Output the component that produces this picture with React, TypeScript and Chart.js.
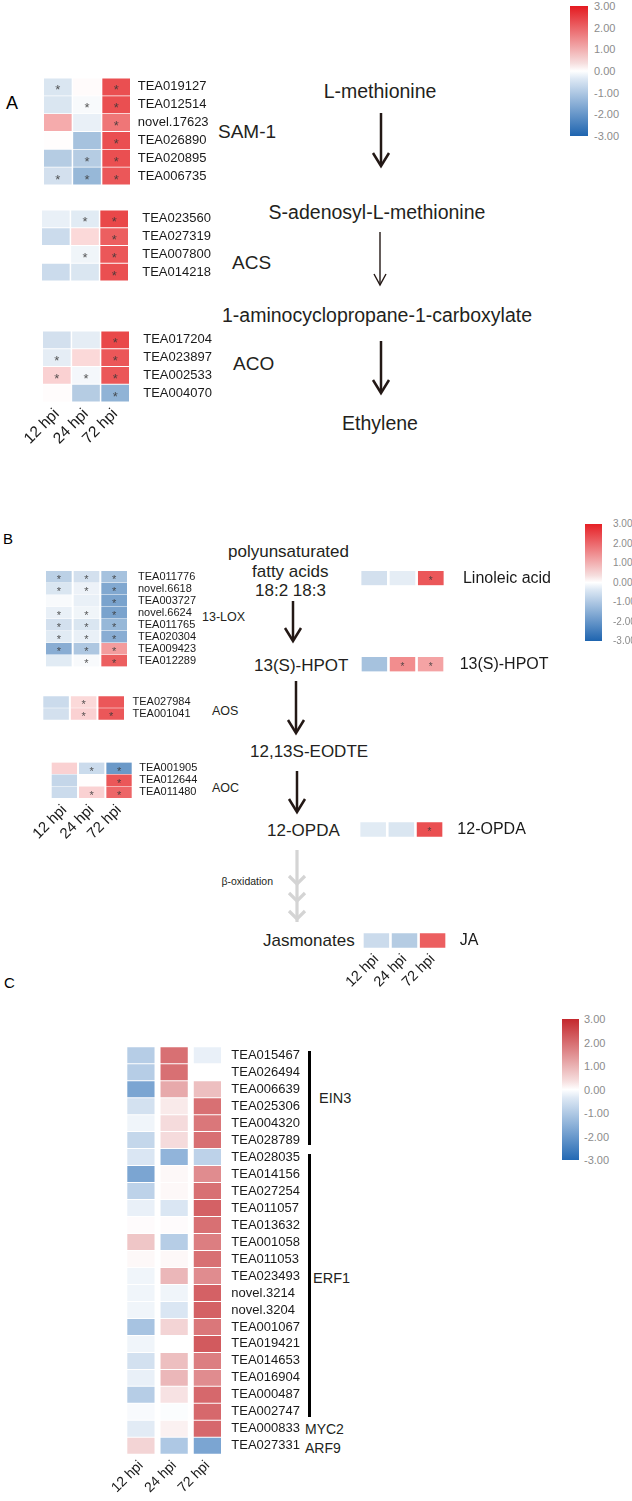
import React, { useEffect, useRef } from "react";
import { Chart, registerables } from "chart.js";
Chart.register(...registerables);

const FONT = "'Liberation Sans', Arial, Helvetica, sans-serif";
Chart.defaults.font.family = FONT;

const TIMES = ["12 hpi", "24 hpi", "72 hpi"];
const SCALE_TICKS = ["3.00", "2.00", "1.00", "0.00", "-1.00", "-2.00", "-3.00"];

// ---------- Panel A ----------
const SAM_GENES = ["TEA019127", "TEA012514", "novel.17623", "TEA026890", "TEA020895", "TEA006735"];
const SAM_12 = [-0.5, -0.5, 1.1, 0.02, -1.0, -0.6];
const SAM_24 = [0.05, -0.1, -0.3, -1.2, -1.0, -1.4];
const SAM_72 = [2.3, 2.3, 1.8, 2.3, 2.3, 2.2];
const SAM_S12 = [1, 0, 0, 0, 0, 1];
const SAM_S24 = [0, 1, 0, 0, 1, 1];
const SAM_S72 = [1, 1, 1, 1, 1, 1];

const ACS_GENES = ["TEA023560", "TEA027319", "TEA007800", "TEA014218"];
const ACS_12 = [-0.3, -0.7, 0.0, -0.7];
const ACS_24 = [-0.4, 0.5, -0.2, -0.5];
const ACS_72 = [2.4, 2.1, 2.2, 2.3];
const ACS_S12 = [0, 0, 0, 0];
const ACS_S24 = [1, 0, 1, 0];
const ACS_S72 = [1, 1, 1, 1];

const ACO_GENES = ["TEA017204", "TEA023897", "TEA002533", "TEA004070"];
const ACO_12 = [-0.6, -0.35, 0.6, 0.04];
const ACO_24 = [-0.35, 0.5, -0.15, -1.0];
const ACO_72 = [2.4, 2.2, 2.2, -1.5];
const ACO_S12 = [0, 1, 1, 0];
const ACO_S24 = [0, 0, 1, 0];
const ACO_S72 = [1, 1, 1, 1];

// ---------- Panel B ----------
const LOX_GENES = ["TEA011776", "novel.6618", "TEA003727", "novel.6624", "TEA011765", "TEA020304", "TEA009423", "TEA012289"];
const LOX_12 = [-0.9, -0.5, -0.1, -0.3, -0.6, -0.4, -1.6, -0.4];
const LOX_24 = [-0.6, -0.25, -0.3, -0.2, -0.5, -0.3, -1.1, -0.1];
const LOX_72 = [-1.2, -1.7, -1.8, -1.8, -1.4, -1.6, 1.3, 2.1];
const LOX_S12 = [1, 1, 0, 1, 1, 1, 1, 0];
const LOX_S24 = [1, 1, 0, 1, 1, 1, 1, 1];
const LOX_S72 = [1, 1, 1, 1, 1, 1, 1, 1];

const AOS_GENES = ["TEA027984", "TEA001041"];
const AOS_12 = [-0.7, -0.6];
const AOS_24 = [0.5, 0.6];
const AOS_72 = [2.2, 2.2];
const AOS_S12 = [0, 0];
const AOS_S24 = [1, 1];
const AOS_S72 = [0, 1];

const AOC_GENES = ["TEA001905", "TEA012644", "TEA011480"];
const AOC_12 = [0.6, -0.8, -0.7];
const AOC_24 = [-0.7, 0.03, 0.6];
const AOC_72 = [-2.0, 2.2, 2.0];
const AOC_S12 = [0, 0, 0];
const AOC_S24 = [1, 0, 1];
const AOC_S72 = [1, 1, 1];

const LIN_VALUES = [-0.6, -0.35, 2.2];
const LIN_SIG = [0, 0, 1];
const HPOT_VALUES = [-1.2, 1.5, 1.2];
const HPOT_SIG = [0, 1, 1];
const OPDA_VALUES = [-0.4, -0.5, 2.3];
const OPDA_SIG = [0, 0, 1];
const JA_VALUES = [-0.7, -1.0, 2.1];
const JA_SIG = [0, 0, 0];

// ---------- Panel C ----------
const C_GENES = [
  "TEA015467", "TEA026494", "TEA006639", "TEA025306", "TEA004320", "TEA028789",
  "TEA028035", "TEA014156", "TEA027254", "TEA011057", "TEA013632", "TEA001058",
  "TEA011053", "TEA023493", "novel.3214", "novel.3204", "TEA001067", "TEA019421",
  "TEA014653", "TEA016904", "TEA000487", "TEA002747", "TEA000833", "TEA027331",
];
const C_12 = [-1.0, -1.0, -1.8, -0.6, -0.2, -0.8, -0.5, -1.8, -0.9, -0.3, 0.05, 0.8,
  0.1, -0.2, -0.2, -0.2, -1.2, -0.2, -0.6, -0.3, -1.0, -0.1, -0.4, 0.6];
const C_24 = [2.0, 2.0, 1.2, 0.3, 0.5, 0.5, -1.5, 0.1, 0.1, -0.5, 0.05, -1.0,
  0.1, 1.0, -0.2, -0.5, 0.6, 0.0, 0.9, 1.0, 0.4, -0.05, 0.2, -1.1];
const C_72 = [-0.3, 0.0, 0.9, 2.0, 1.9, 2.0, -0.9, 1.6, 2.0, 2.2, 2.0, 1.8,
  2.0, 1.6, 2.2, 2.2, 1.9, 2.3, 1.8, 1.6, 2.1, 2.1, 2.1, -1.8];

type Pal = { pos: number[]; neg: number[] };
const PAL_AB: Pal = { pos: [228, 26, 28], neg: [33, 102, 172] };
const PAL_C: Pal = { pos: [196, 40, 45], neg: [35, 105, 180] };

function colorOf(v: number, pal: Pal) {
  const t = Math.min(Math.abs(v) / 3, 1);
  const end = v >= 0 ? pal.pos : pal.neg;
  const c = end.map((e) => Math.round(255 + (e - 255) * t));
  return `rgb(${c[0]},${c[1]},${c[2]})`;
}

type HMProps = {
  L: number; R: number; T: number; B: number;
  colGap: number; rowGap: number;
  labels: string[]; cols: number[][]; sig?: number[][];
  labelGap: number; labelFont: number; labelW?: number;
  xLabels?: boolean; xFont?: number; xH?: number; xPad?: number;
  starFont?: number; pal: Pal;
};

const PAD = 40;

function Heatmap(props: HMProps) {
  const ref = useRef<HTMLCanvasElement>(null);
  const {
    L, R, T, B, colGap, rowGap, labels, cols, sig, labelGap, labelFont,
    labelW = 90, xLabels = false, xFont = 14, xH = 50, xPad = 3, starFont = 12, pal,
  } = props;
  const p = (R - L + colGap) / 3;
  const areaL = L - colGap / 2;
  const gx = colGap / 2 / p;
  const canvasLeft = Math.floor(areaL) - 60;
  const canvasTop = Math.floor(T) - PAD;
  const padL = areaL - canvasLeft;
  const padT = T - canvasTop;
  const cw = Math.ceil(padL + 3 * p + labelW);
  const ch = Math.ceil(padT + (B - T) + (xLabels ? xH : PAD));
  const yW = cw - padL - 3 * p;
  const bottomPart = ch - padT - (B - T);
  const rowH = (B - T) / labels.length;

  useEffect(() => {
    const starPlugin = {
      id: "stars",
      afterDatasetsDraw(chart: any) {
        if (!sig) return;
        const ctx = chart.ctx;
        ctx.save();
        ctx.font = `${starFont}px ${FONT}`;
        ctx.fillStyle = "rgba(55,55,55,0.85)";
        ctx.textAlign = "center";
        ctx.textBaseline = "alphabetic";
        sig.forEach((col, c) => {
          const meta = chart.getDatasetMeta(c);
          col.forEach((s, r) => {
            if (!s) return;
            const el: any = meta.data[r];
            const cx = (el.x + el.base) / 2;
            ctx.fillText("*", cx, el.y + starFont * 0.58);
          });
        });
        ctx.restore();
      },
    };
    const chart = new Chart(ref.current as HTMLCanvasElement, {
      type: "bar",
      data: {
        labels,
        datasets: cols.map((vals, c) => ({
          data: vals.map(() => [c + gx, c + 1 - gx]),
          backgroundColor: vals.map((v) => colorOf(v, pal)),
          borderWidth: 0,
          barPercentage: Math.max(0.5, 1 - rowGap / rowH),
          categoryPercentage: 1,
          grouped: false,
        })) as any,
      },
      options: {
        indexAxis: "y",
        responsive: false,
        animation: false,
        events: [],
        layout: { padding: { left: padL, top: padT, right: 0, bottom: xLabels ? 0 : bottomPart } },
        plugins: { legend: { display: false }, tooltip: { enabled: false } },
        scales: {
          x: {
            type: "linear",
            min: 0,
            max: 3,
            display: xLabels,
            position: "bottom",
            grid: { display: false, drawTicks: false },
            border: { display: false },
            ticks: {
              autoSkip: false,
              minRotation: 45,
              maxRotation: 45,
              padding: xPad,
              color: "#1a1a1a",
              font: { size: xFont },
              callback: (v: any) => TIMES[Math.floor(Number(v))],
            },
            afterBuildTicks: (s: any) => {
              s.ticks = [0.5, 1.5, 2.5].map((v) => ({ value: v }));
            },
            afterFit: (s: any) => {
              if (xLabels) s.height = bottomPart;
            },
          },
          y: {
            type: "category",
            position: "right",
            offset: true,
            grid: { display: false, drawTicks: false },
            border: { display: false },
            ticks: {
              autoSkip: false,
              padding: labelGap,
              color: "#1a1a1a",
              font: { size: labelFont },
            },
            afterFit: (s: any) => {
              s.width = yW;
            },
          },
        },
      } as any,
      plugins: [starPlugin],
    });
    return () => chart.destroy();
  }, []);

  return (
    <canvas
      ref={ref}
      width={cw}
      height={ch}
      style={{ position: "absolute", left: canvasLeft, top: canvasTop, width: cw, height: ch }}
    />
  );
}

function Txt(props: { x: number; y: number; s: string; size: number; align?: "left" | "center" | "right"; color?: string }) {
  const { x, y, s, size, align = "left", color = "#231f20" } = props;
  const tx = align === "left" ? "0" : align === "center" ? "-50%" : "-100%";
  return (
    <div
      style={{
        position: "absolute", left: x, top: y, transform: `translate(${tx},-50%)`,
        fontSize: size, lineHeight: 1, whiteSpace: "nowrap", color, fontFamily: FONT,
      }}
    >
      {s}
    </div>
  );
}

function ColorBar(props: { x: number; y: number; w: number; h: number; top: string; bottom: string; lx: number; fs: number }) {
  const { x, y, w, h, top, bottom, lx, fs } = props;
  return (
    <>
      <div
        style={{
          position: "absolute", left: x, top: y, width: w, height: h,
          background: `linear-gradient(to bottom, ${top} 0%, #f6dede 44%, #ffffff 50%, #dde8f4 56%, ${bottom} 100%)`,
        }}
      />
      {SCALE_TICKS.map((t, i) => (
        <Txt key={t} x={lx} y={y + (i * h) / 6} s={t} size={fs} color="#8c8c8c" />
      ))}
    </>
  );
}

function Arrow({ x, y1, y2, w, hw, hl, color = "#231815" }: { x: number; y1: number; y2: number; w: number; hw: number; hl: number; color?: string }) {
  return (
    <g stroke={color} strokeWidth={w} fill="none">
      <line x1={x} y1={y1} x2={x} y2={y2 - w * 0.4} />
      <polyline points={`${x - hw},${y2 - hl} ${x},${y2} ${x + hw},${y2 - hl}`} strokeLinejoin="miter" />
    </g>
  );
}

export default function App() {
  return (
    <div style={{ position: "absolute", left: 0, top: 0, width: 632, height: 1501, background: "#fff", overflow: "hidden", fontFamily: FONT }}>
      {/* Panel letters */}
      <Txt x={6} y={103} s="A" size={18} color="#000" />
      <Txt x={3} y={538} s="B" size={15} color="#000" />
      <Txt x={4} y={982} s="C" size={15} color="#000" />

      {/* Panel A pathway */}
      <Txt x={380} y={92} s="L-methionine" size={19.5} align="center" />
      <Txt x={377} y={213} s="S-adenosyl-L-methionine" size={19.5} align="center" />
      <Txt x={377} y={316} s="1-aminocyclopropane-1-carboxylate" size={19.5} align="center" />
      <Txt x={380} y={424} s="Ethylene" size={19.5} align="center" />
      <Txt x={218} y={131} s="SAM-1" size={19} />
      <Txt x={232} y={262} s="ACS" size={19} />
      <Txt x={233} y={363} s="ACO" size={19} />

      {/* Panel B pathway */}
      <Txt x={228} y={551} s="polyunsaturated" size={17} />
      <Txt x={252} y={570.5} s="fatty acids" size={17} />
      <Txt x={255} y={589.5} s="18:2 18:3" size={17} />
      <Txt x={254} y={665} s="13(S)-HPOT" size={17} />
      <Txt x={250} y={751} s="12,13S-EODTE" size={17} />
      <Txt x={267} y={830} s="12-OPDA" size={17} />
      <Txt x={273} y={881} s="β-oxidation" size={10.5} align="right" />
      <Txt x={263} y={940} s="Jasmonates" size={17} />
      <Txt x={202} y={617} s="13-LOX" size={12.5} />
      <Txt x={212} y={711} s="AOS" size={12.5} />
      <Txt x={212} y={788} s="AOC" size={12.5} />

      {/* Panel C group labels */}
      <div style={{ position: "absolute", left: 308, top: 1051, width: 2.7, height: 94, background: "#000" }} />
      <div style={{ position: "absolute", left: 308, top: 1154, width: 2.7, height: 263, background: "#000" }} />
      <Txt x={319} y={1098} s="EIN3" size={14.5} />
      <Txt x={313} y={1278} s="ERF1" size={14.5} />
      <Txt x={305} y={1429} s="MYC2" size={14} />
      <Txt x={305} y={1448} s="ARF9" size={14} />

      <svg width={632} height={1501} style={{ position: "absolute", left: 0, top: 0 }}>
        <Arrow x={381} y1={113} y2={166} w={2.5} hw={8} hl={13} />
        <Arrow x={380} y1={232} y2={285} w={1.4} hw={6} hl={11} />
        <Arrow x={381} y1={341} y2={393} w={2.5} hw={8} hl={13} />
        <Arrow x={293} y1={601} y2={641} w={2.5} hw={8} hl={13} />
        <Arrow x={296} y1={681} y2={733} w={2.5} hw={8} hl={13} />
        <Arrow x={297} y1={771} y2={812} w={2.5} hw={8} hl={13} />
        <g stroke="#d4d4d4" strokeWidth={3.2} fill="none">
          <line x1={297} y1={850} x2={297} y2={922} />
          <polyline points="289,876 297,884 305,876" />
          <polyline points="289,893 297,901 305,893" />
          <polyline points="289,911 297,919 305,911" />
        </g>
      </svg>

      {/* Panel A heatmaps */}
      <Heatmap L={44} R={130} T={78} B={185} colGap={1.5} rowGap={0.8} labels={SAM_GENES}
        cols={[SAM_12, SAM_24, SAM_72]} sig={[SAM_S12, SAM_S24, SAM_S72]} labelGap={7} labelFont={13} starFont={13} pal={PAL_AB} />
      <Heatmap L={42} R={128} T={210} B={281} colGap={1.5} rowGap={0.8} labels={ACS_GENES}
        cols={[ACS_12, ACS_24, ACS_72]} sig={[ACS_S12, ACS_S24, ACS_S72]} labelGap={13.5} labelFont={13} starFont={13} pal={PAL_AB} />
      <Heatmap L={43} R={129} T={331} B={402} colGap={1.5} rowGap={0.8} labels={ACO_GENES}
        cols={[ACO_12, ACO_24, ACO_72]} sig={[ACO_S12, ACO_S24, ACO_S72]} labelGap={13.5} labelFont={13} starFont={13} pal={PAL_AB}
        xLabels xFont={15.5} xH={50} />

      {/* Panel B heatmaps */}
      <Heatmap L={46} R={127} T={570.7} B={666.7} colGap={2} rowGap={0.6} labels={LOX_GENES}
        cols={[LOX_12, LOX_24, LOX_72]} sig={[LOX_S12, LOX_S24, LOX_S72]} labelGap={10} labelFont={11} starFont={11} pal={PAL_AB} />
      <Heatmap L={43.3} R={124} T={696} B={720} colGap={2} rowGap={0.6} labels={AOS_GENES}
        cols={[AOS_12, AOS_24, AOS_72]} sig={[AOS_S12, AOS_S24, AOS_S72]} labelGap={7.5} labelFont={11} starFont={11} pal={PAL_AB} />
      <Heatmap L={51.7} R={131.7} T={762.3} B={798.3} colGap={2} rowGap={0.6} labels={AOC_GENES}
        cols={[AOC_12, AOC_24, AOC_72]} sig={[AOC_S12, AOC_S24, AOC_S72]} labelGap={6.5} labelFont={11} starFont={11} pal={PAL_AB}
        xLabels xFont={15} xH={50} />
      <Heatmap L={361.7} R={443.3} T={571} B={585.3} colGap={3.3} rowGap={0} labels={["Linoleic acid"]}
        cols={LIN_VALUES.map((v) => [v])} sig={LIN_SIG.map((s) => [s])} labelGap={18} labelFont={16} labelW={120} starFont={10} pal={PAL_AB} />
      <Heatmap L={362} R={443} T={657} B={671.5} colGap={3.3} rowGap={0} labels={["13(S)-HPOT"]}
        cols={HPOT_VALUES.map((v) => [v])} sig={HPOT_SIG.map((s) => [s])} labelGap={15} labelFont={16} labelW={120} starFont={10} pal={PAL_AB} />
      <Heatmap L={360.7} R={442} T={822.3} B={836.7} colGap={3.3} rowGap={0} labels={["12-OPDA"]}
        cols={OPDA_VALUES.map((v) => [v])} sig={OPDA_SIG.map((s) => [s])} labelGap={13.7} labelFont={16} labelW={120} starFont={10} pal={PAL_AB} />
      <Heatmap L={364} R={445} T={933.3} B={947.7} colGap={3.3} rowGap={0} labels={["JA"]}
        cols={JA_VALUES.map((v) => [v])} sig={JA_SIG.map((s) => [s])} labelGap={13} labelFont={16} labelW={120} starFont={10} pal={PAL_AB}
        xLabels xFont={14.5} xH={50} />

      {/* Panel C heatmap */}
      <Heatmap L={127.3} R={221} T={1046.7} B={1454.3} colGap={6} rowGap={1} labels={C_GENES}
        cols={[C_12, C_24, C_72]} labelGap={7.3} labelFont={13} pal={PAL_C} xLabels xFont={14} xH={46} />

      {/* Colour scales */}
      <ColorBar x={570} y={6} w={18} h={130} top="rgb(228,26,32)" bottom="rgb(30,100,175)" lx={594} fs={11} />
      <ColorBar x={585} y={524} w={17} h={117} top="rgb(230,32,38)" bottom="rgb(30,100,175)" lx={613} fs={10} />
      <ColorBar x={562} y={1019} w={17} h={141} top="rgb(196,40,45)" bottom="rgb(35,105,180)" lx={584} fs={11} />
    </div>
  );
}
